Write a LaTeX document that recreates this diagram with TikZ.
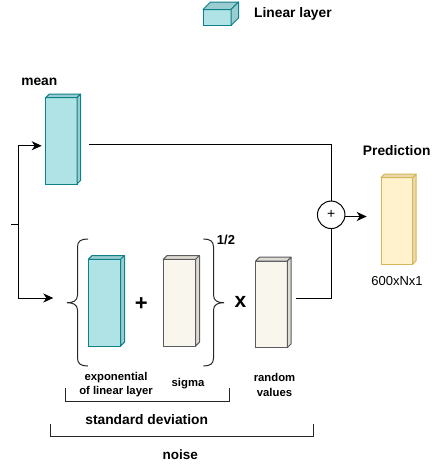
\documentclass[tikz,border=0pt]{standalone}
\usepackage{fontspec}
\setmainfont{Liberation Sans}
\usetikzlibrary{arrows.meta}

\definecolor{tealfill}{HTML}{B0E3E6}
\definecolor{tealside}{HTML}{9ACDD0}
\definecolor{tealline}{HTML}{0E8088}
\definecolor{paperfill}{HTML}{F9F7ED}
\definecolor{paperside}{HTML}{DEDCD2}
\definecolor{paperline}{HTML}{5A5C60}
\definecolor{goldfill}{HTML}{FFF2CC}
\definecolor{goldside}{HTML}{EAD9AC}
\definecolor{goldline}{HTML}{D6B656}

% front face of a layer block plus its top and right faces
\newcommand{\layerbox}[9]{%
  \node[draw=#8, fill=#7, line width=1pt, inner sep=0pt, outer sep=0pt,
        minimum width=#4pt, minimum height=#5pt, anchor=north west] (#1) at (#2,#3) {};
  \filldraw[draw=#8, fill=#9, line width=1pt, line join=round]
    (#1.north west) -- ++(#6pt,#6pt) -- ([shift={(#6pt,#6pt)}]#1.north east) -- (#1.north east) -- cycle;
  \filldraw[draw=#8, fill=#9, line width=1pt, line join=round]
    (#1.north east) -- ++(#6pt,#6pt) -- ([shift={(#6pt,#6pt)}]#1.south east) -- (#1.south east) -- cycle;
}

\tikzset{
  lbl/.style={font=\fontsize{13.8}{15}\selectfont\bfseries, inner sep=0pt},
  small/.style={font=\fontsize{11.3}{14.5}\selectfont\bfseries, inner sep=0pt, align=center},
  conn/.style={line width=1pt, black},
  arr/.style={conn, -{Stealth[length=10pt, width=9pt, inset=3pt]}},
  bracket/.style={line width=1pt, black!85},
  op/.style={font=\fontsize{22}{24}\selectfont\bfseries, inner sep=0pt}
}

\begin{document}
\begin{tikzpicture}[x=1pt, y=-1pt]
\useasboundingbox (0,0) rectangle (432,466);

% legend
\layerbox{legend}{203}{9.5}{28}{16}{7.5}{tealfill}{tealline}{tealside}
\node[lbl, anchor=west] (legendtxt) at (254,13.5) {Linear layer};

% mean branch
\layerbox{mean}{45.7}{97.7}{31.3}{86.3}{3.5}{tealfill}{tealline}{tealside}
\node[lbl] (meantxt) at (39.3,82) {mean};

% noise branch
\layerbox{expo}{88.3}{259.3}{32.4}{86.7}{3.8}{tealfill}{tealline}{tealside}
\layerbox{sigma}{163.3}{259.3}{32.4}{86.7}{3.8}{paperfill}{paperline}{paperside}
\layerbox{rand}{255.7}{261}{31.6}{86.7}{3.8}{paperfill}{paperline}{paperside}
\node[op] (plus) at (141.3,304) {+};
\node[op, font=\fontsize{21}{24}\selectfont\bfseries] (times) at (240.5,302) {x};
\node[font=\fontsize{13}{15}\selectfont\bfseries, inner sep=0pt] (half) at (226,240) {1/2};

% braces around the variance sum
\draw[bracket] (88,239) .. controls (81,239) and (77.5,241) .. (77.5,247) -- (77.5,295)
  .. controls (77.5,301) and (73,302.7) .. (67,302.7)
  .. controls (73,302.7) and (77.5,304.5) .. (77.5,310) -- (77.5,358)
  .. controls (77.5,364) and (81,366) .. (88,366);
\draw[bracket] (203.3,239) .. controls (210,239) and (213.5,241) .. (213.5,247) -- (213.5,295)
  .. controls (213.5,301) and (218,302.7) .. (224,302.7)
  .. controls (218,302.7) and (213.5,304.5) .. (213.5,310) -- (213.5,358)
  .. controls (213.5,364) and (210,366) .. (203.3,366);
\coordinate (bracein) at (53.3,298);

% prediction
\layerbox{pred}{381}{177.7}{31.7}{86.6}{3.5}{goldfill}{goldline}{goldside}
\node[lbl] (predtxt) at (396.7,151) {Prediction};
\node[font=\fontsize{13}{15}\selectfont, inner sep=0pt] (shape) at (397,281) {600xNx1};

% summation
\node[draw, circle, line width=1pt, minimum size=27.5pt, inner sep=0pt,
      font=\fontsize{14}{14}\selectfont] (sum) at (331.2,214.8) {+};

% labels under the blocks
\node[small] (expotxt) at (116,384.5) {exponential\\of linear layer};
\node[small] (sigmatxt) at (188,384) {sigma};
\node[small] (randtxt) at (274.5,385) {random\\values};
\node[lbl, font=\fontsize{13.8}{15}\selectfont\bfseries] (stdtxt) at (146.7,419.5) {standard deviation};
\node[lbl, font=\fontsize{13.5}{15}\selectfont\bfseries] (noisetxt) at (180.3,454.5) {noise};

% brackets
\draw[bracket] (65.3,388.3) -- (65.3,401) -- (229,401) -- (229,388.3);
\draw[bracket] (50.7,424) -- (50.7,436.7) -- (313.3,436.7) -- (313.3,424);

% input and branches
\coordinate (in) at (11,224);
\coordinate (split) at (18.3,224);
\draw[conn] (in) -- (split);
\draw[arr] (split) |- ([xshift=-4pt, yshift=-4.9pt]mean.west);
\draw[arr] (split) |- (bracein);

% mean and noise into the sum
\coordinate (meanout) at (89.3,144.3);
\draw[conn] (meanout) -| (sum.north);
\coordinate (randout) at (296,298.3);
\draw[conn] (randout) -| (sum.south);

% sum to prediction
\coordinate (predin) at (366.7,216.5);
\draw[arr] (sum.east |- predin) -- (predin);
\end{tikzpicture}
\end{document}
